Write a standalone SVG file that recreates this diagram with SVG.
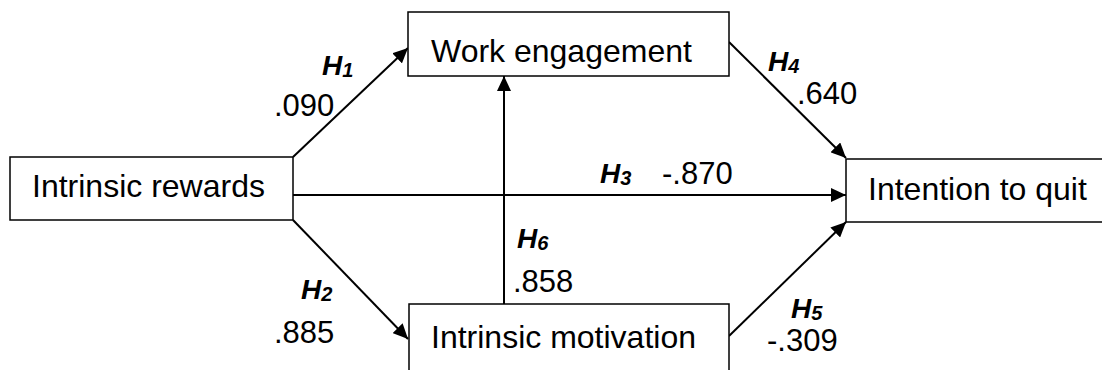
<svg xmlns="http://www.w3.org/2000/svg" width="1102" height="370" viewBox="0 0 1102 370">
  <style>
    .box { fill: #ffffff; stroke: #000000; stroke-width: 1.5; }
    .node-text { font-family: "Liberation Sans", Arial, sans-serif; font-size: 32px; fill: #000000; }
    .coef { font-family: "Liberation Sans", Arial, sans-serif; font-size: 31px; fill: #000000; }
    .hyp { font-family: "Liberation Sans", Arial, sans-serif; font-size: 28px; font-weight: bold; font-style: italic; fill: #000000; }
    .hyp .sub { font-size: 20px; }
    .link { stroke: #000000; stroke-width: 2; fill: none; marker-end: url(#arrow); }
  </style>
  <defs>
    <marker id="arrow" markerUnits="userSpaceOnUse" markerWidth="16" markerHeight="14" refX="15" refY="7" orient="auto">
      <path d="M0,0 L15,7 L0,14 z" fill="#000000"/>
    </marker>
  </defs>

  <rect width="1102" height="370" fill="#ffffff"/>

  <!-- paths between constructs -->
  <g id="connectors">
    <line class="link" x1="293" y1="157" x2="408" y2="48"/>
    <line class="link" x1="293" y1="220" x2="408" y2="339"/>
    <line class="link" x1="293" y1="195" x2="846" y2="195"/>
    <line class="link" x1="729" y1="42" x2="846" y2="158"/>
    <line class="link" x1="729" y1="336" x2="846" y2="222"/>
    <line class="link" x1="504" y1="304" x2="504" y2="76"/>
  </g>

  <g id="intrinsic-rewards">
    <rect class="box" x="10" y="157" width="283" height="63"/>
    <text class="node-text" x="32" y="197">Intrinsic rewards</text>
  </g>

  <g id="work-engagement">
    <rect class="box" x="408" y="12" width="321" height="64"/>
    <text class="node-text" x="431" y="62">Work engagement</text>
  </g>

  <g id="intention-to-quit">
    <rect class="box" x="846" y="159" width="270" height="63"/>
    <text class="node-text" x="868" y="200">Intention to quit</text>
  </g>

  <g id="intrinsic-motivation">
    <rect class="box" x="409" y="304" width="320" height="80"/>
    <text class="node-text" x="431" y="348">Intrinsic motivation</text>
  </g>

  <!-- hypothesis labels and path coefficients -->
  <g id="labels">
    <text class="hyp" x="322" y="75">H<tspan class="sub" dy="2">1</tspan></text>
    <text class="coef" x="274" y="116">.090</text>

    <text class="hyp" x="301" y="299">H<tspan class="sub" dy="2">2</tspan></text>
    <text class="coef" x="274" y="343">.885</text>

    <text class="hyp" x="600" y="183">H<tspan class="sub" dy="2">3</tspan></text>
    <text class="coef" x="662" y="184">-.870</text>

    <text class="hyp" x="768" y="71">H<tspan class="sub" dy="2">4</tspan></text>
    <text class="coef" x="797" y="104">.640</text>

    <text class="hyp" x="791" y="318">H<tspan class="sub" dy="2">5</tspan></text>
    <text class="coef" x="767" y="351">-.309</text>

    <text class="hyp" x="517" y="248">H<tspan class="sub" dy="2">6</tspan></text>
    <text class="coef" x="513" y="292">.858</text>
  </g>
</svg>
